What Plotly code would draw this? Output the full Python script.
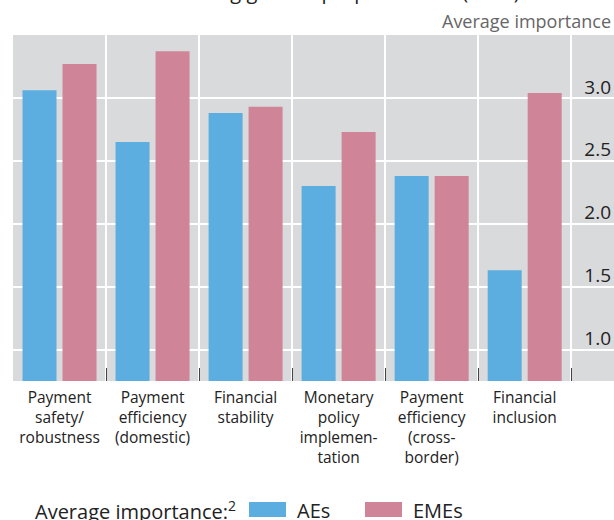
import plotly.graph_objects as go

CATEGORIES = [
    "Payment<br>safety/<br>robustness",
    "Payment<br>efficiency<br>(domestic)",
    "Financial<br>stability",
    "Monetary<br>policy<br>implemen-<br>tation",
    "Payment<br>efficiency<br>(cross-<br>border)",
    "Financial<br>inclusion",
]
AES = [3.06, 2.65, 2.88, 2.30, 2.38, 1.63]
EMES = [3.27, 3.37, 2.93, 2.73, 2.38, 3.04]
Y_TICKS = [1.0, 1.5, 2.0, 2.5, 3.0]

BLUE = "#5daee0"
PINK = "#cf8498"
BG = "#d9dadc"
FONT = "Open Sans"

W, H = 614, 520
M_L, M_R, M_T, M_B = 13, 0, 35, 139
PW = W - M_L - M_R
PH = H - M_T - M_B


def px_x(x):
    return (x - M_L) / PW


def px_y(y):
    return (H - M_B - y) / PH


fig = go.Figure()
fig.add_trace(go.Bar(x=CATEGORIES, y=AES, name="AEs", marker_color=BLUE,
                     marker_line_width=0, showlegend=False))
fig.add_trace(go.Bar(x=CATEGORIES, y=EMES, name="EMEs", marker_color=PINK,
                     marker_line_width=0, showlegend=False))

fig.update_layout(
    width=W, height=H,
    margin=dict(l=M_L, r=M_R, t=M_T, b=M_B, pad=0),
    paper_bgcolor="white",
    plot_bgcolor=BG,
    barmode="group",
    bargap=0.14,
    bargroupgap=0.15,
    font=dict(family=FONT, color="#222222"),
)
fig.update_xaxes(
    type="category",
    range=[-0.5, 5.96],
    tickson="boundaries",
    showgrid=True, gridcolor="white", gridwidth=1.5,
    ticks="inside", ticklen=13, tickwidth=1, tickcolor="#444444",
    tickfont=dict(size=15.5, color="#222222"),
    ticklabelstandoff=5,
    showline=False, zeroline=False,
)
fig.update_yaxes(
    range=[0.75, 3.5],
    side="right",
    tickvals=Y_TICKS,
    ticktext=[f"{v:.1f}" for v in Y_TICKS],
    ticklabelposition="inside",
    ticklabelshift=-11,
    ticks="",
    showgrid=True, gridcolor="white", gridwidth=1.5,
    tickfont=dict(size=19, color="#222222"),
    showline=False, zeroline=False,
)

# top header texts (panel title, mostly above the visible area)
fig.add_annotation(text="Motivations for issuing general purpose CBDC (2021)",
                   xref="paper", yref="paper", x=px_x(522), y=px_y(7),
                   xanchor="right", yanchor="bottom", showarrow=False,
                   font=dict(size=20, color="#222222"))
fig.add_annotation(text="Average importance", xref="paper", yref="paper",
                   x=px_x(613), y=px_y(35), xanchor="right", yanchor="bottom",
                   showarrow=False, font=dict(size=18, color="#666666"))

# legend
fig.add_annotation(text="Average importance:<sup>2</sup>", xref="paper", yref="paper",
                   x=px_x(33), y=px_y(510), xanchor="left", yanchor="middle",
                   showarrow=False, font=dict(size=20, color="#222222"))
for x0, color, label in [(249, BLUE, "AEs"), (365, PINK, "EMEs")]:
    fig.add_shape(type="rect", xref="paper", yref="paper",
                  x0=px_x(x0), x1=px_x(x0 + 37), y0=px_y(517), y1=px_y(502),
                  fillcolor=color, line_width=0)
    fig.add_annotation(text=label, xref="paper", yref="paper",
                       x=px_x(x0 + 46), y=px_y(510), xanchor="left", yanchor="middle",
                       showarrow=False, font=dict(size=20, color="#222222"))

fig.write_html(
    "out.html",
    config={"displayModeBar": False},
    post_script="document.body.style.margin='0';document.body.style.overflow='hidden';",
)
